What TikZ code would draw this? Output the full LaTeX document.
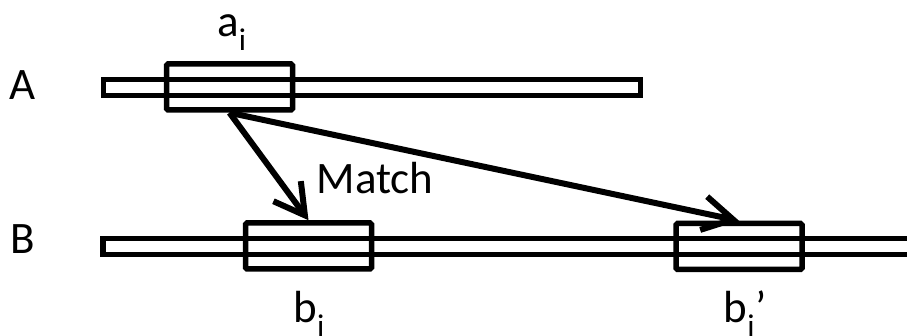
\documentclass[tikz,border=0pt]{standalone}
\usepackage{fontspec}
\setmainfont{Carlito}
\usetikzlibrary{arrows.meta}

\tikzset{
  bar/.style={draw, line width=5.5pt, inner sep=0pt, minimum height=16pt},
  seg/.style={draw, line width=5.5pt, inner sep=0pt, rounded corners=1.5pt, minimum width=126pt, minimum height=46pt},
  lbl/.style={anchor=base, inner sep=0pt, font=\fontsize{45}{54}\selectfont},
  link/.style={line width=6pt, -{Straight Barb[length=30pt, width=34pt, line width=6pt]}}
}

\begin{document}
\begin{tikzpicture}[x=1pt, y=-1pt]
				\clip (0,0) rectangle (907,336);
				% the two sequences
				\node[bar, minimum width=537pt] (barA) at (372,87.5) {};
				\node[bar, minimum width=857pt] (barB) at (531.5,246.5) {};
				% segments
				\node[seg] (ai) at (229.5,87) {};
				\node[seg] (bj) at (308.5,246) {};
				\node[seg] (bjp) at (739,246.5) {};
				% labels
				\node[lbl] (labA) at (23,100) {A};
				\node[lbl] (labB) at (23,254) {B};
				\node[lbl] (labai) at (232,37) {a\textsubscript{i}};
				\node[lbl] (labbj) at (309,323) {b\textsubscript{j}};
				\node[lbl] (labbjp) at (745,323) {b\textsubscript{j}’};
				\node[lbl] (labmatch) at (375,194) {Match};
				% matches
				\draw[link] (ai.south) -- (bj.north);
				\draw[link] (ai.south) -- (bjp.north);
			\end{tikzpicture}
\end{document}
